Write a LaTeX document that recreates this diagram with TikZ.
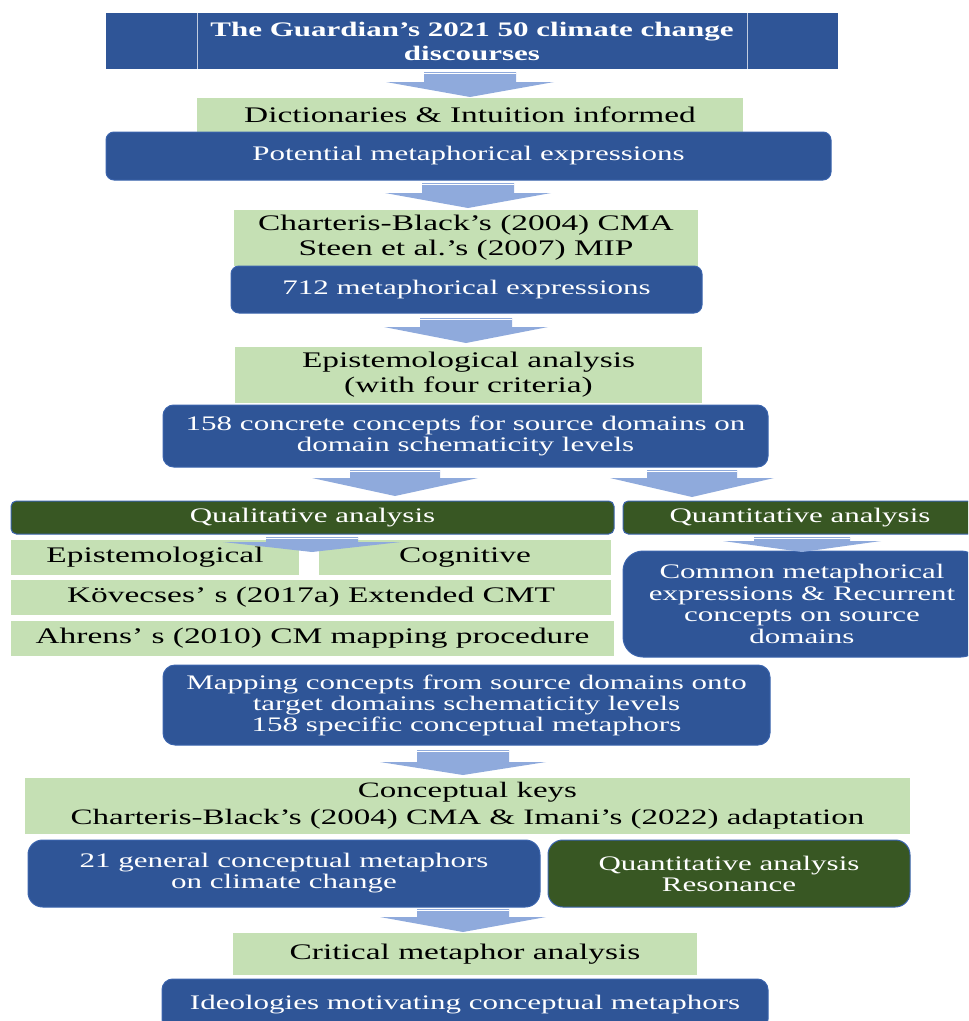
\documentclass[tikz,border=0pt]{standalone}
\usepackage{fontspec}
\setmainfont{Liberation Serif}
\newfontfamily\tnr[FakeStretch=1.5]{Liberation Serif}
\definecolor{dblue}{HTML}{2F5597}
\definecolor{bord}{HTML}{3B64AD}
\definecolor{lgreen}{HTML}{C5E0B4}
\definecolor{dgreen}{HTML}{385723}
\definecolor{arrowc}{HTML}{8FAADC}
\tikzset{
  base/.style={inner sep=0pt, outer sep=0pt, align=center},
  bluebox/.style={base, fill=dblue, draw=bord, line width=0.75pt, text=white,
    font=\tnr\fontsize{15.5}{15.75}\selectfont},
  greenbox/.style={base, fill=lgreen, text=black,
    font=\tnr\fontsize{16.7}{18.75}\selectfont},
  dgreenbox/.style={base, fill=dgreen, draw=bord, line width=0.75pt, text=white,
    font=\tnr\fontsize{15.5}{15.75}\selectfont},
  titlebox/.style={base, fill=dblue, text=white,
    font=\tnr\bfseries\fontsize{15.5}{18}\selectfont},
  stripe/.style={white, line width=0.6pt},
}
\newcommand\bx[6]{%
  \node[#1, minimum width={(#4-#2)*0.75pt}, minimum height={(#5-#3)*0.75pt}] (#6) at ({(#2+#4)/2},{(#3+#5)/2})}
\newcommand\barrow[7]{%
  \coordinate (#1) at (#2,#5);
  \fill[arrowc] (#2-#6,#3) -- (#2+#6,#3) -- (#2+#6,#4) -- (#2+#7,#4) -- (#1)
     -- (#2-#7,#4) -- (#2-#6,#4) -- cycle;
  \draw[stripe] (#2-#6,#3+1.8) -- (#2+#6,#3+1.8);}
\begin{document}
\begin{tikzpicture}[x=0.75pt, y=-0.75pt]
\useasboundingbox (0,0) rectangle (968,1021);
\clip (0,0) rectangle (968,1021);

% top
\bx{titlebox}{106}{13}{838}{69}{title}{The Guardian’s 2021 50 climate change\\discourses};
\draw[white!70!dblue, line width=0.75pt] (title.south west) ++(91,0) coordinate (tl1) -- (tl1 |- title.north);
\draw[white!70!dblue, line width=0.75pt] (title.south west) ++(641,0) coordinate (tl2) -- (tl2 |- title.north);

\bx{greenbox}{197}{98}{743}{132}{dict}{Dictionaries \& Intuition informed};
\bx{bluebox, rounded corners=6pt}{106}{132}{831}{180}{pot}{Potential metaphorical expressions};

\bx{greenbox}{234}{210}{698}{266}{char}{Charteris-Black’s (2004) CMA\\Steen et al.’s (2007) MIP};
\bx{bluebox, rounded corners=6pt}{231}{266}{702}{313}{n712}{712 metaphorical expressions};

\bx{greenbox}{235}{347}{702}{403}{epi}{Epistemological analysis\\(with four criteria)};
\bx{bluebox, rounded corners=8pt}{163}{405}{768}{467}{c158}{158 concrete concepts for source domains on\\domain schematicity levels};

% split
\bx{dgreenbox, rounded corners=4pt}{11}{501}{614}{534}{qual}{Qualitative analysis};
\bx{dgreenbox, rounded corners=4pt}{623}{501}{977}{534}{quant}{Quantitative analysis};

\bx{greenbox}{11}{540}{299}{575}{epist}{Epistemological};
\bx{greenbox}{319}{540}{611}{575}{cog}{Cognitive};
\bx{greenbox}{11}{580}{611}{615}{kov}{Kövecses’ s (2017a) Extended CMT};
\bx{greenbox}{11}{621}{614}{656}{ahr}{Ahrens’ s (2010) CM mapping procedure};

\bx{bluebox, rounded corners=15pt, font=\tnr\fontsize{15.5}{16.3}\selectfont}{623}{551}{981}{657}{common}{Common metaphorical\\expressions \& Recurrent\\concepts on source\\domains};

\bx{bluebox, rounded corners=9pt}{163}{665}{770}{745}{map}{Mapping concepts from source domains onto\\target domains schematicity levels\\158 specific conceptual metaphors};

\bx{greenbox, font=\tnr\fontsize{16.5}{20}\selectfont}{25}{778}{910}{834}{keys}{Conceptual keys\\Charteris-Black’s (2004) CMA \& Imani’s (2022) adaptation};

\bx{bluebox, rounded corners=11pt}{28}{840}{540}{907}{gen}{21 general conceptual metaphors\\on climate change};
\bx{dgreenbox, rounded corners=11pt}{548}{840}{910}{907}{res}{Quantitative analysis\\Resonance};

\bx{greenbox}{233}{933}{697}{975}{crit}{Critical metaphor analysis};
\bx{bluebox, rounded corners=8pt}{162}{979}{768}{1030}{ideo}{\raisebox{3pt}{Ideologies motivating conceptual metaphors}};

% block arrows
\barrow{a1}{470}{72}{82}{97}{46}{84}
\barrow{a2}{468}{183}{193}{208}{46}{83}
\barrow{a3}{466}{318}{327}{343}{46}{82}
\barrow{a4}{395}{470}{478}{496}{45}{83}
\barrow{a5}{692}{470}{478}{497}{45}{82}
\barrow{a6}{312}{537}{542}{552}{46}{89}
\barrow{a7}{802}{537}{541}{552}{48}{79}
\barrow{a8}{463}{750}{762}{775}{46}{83}
\barrow{a9}{463}{909}{917}{932}{46}{83}
\end{tikzpicture}
\end{document}
